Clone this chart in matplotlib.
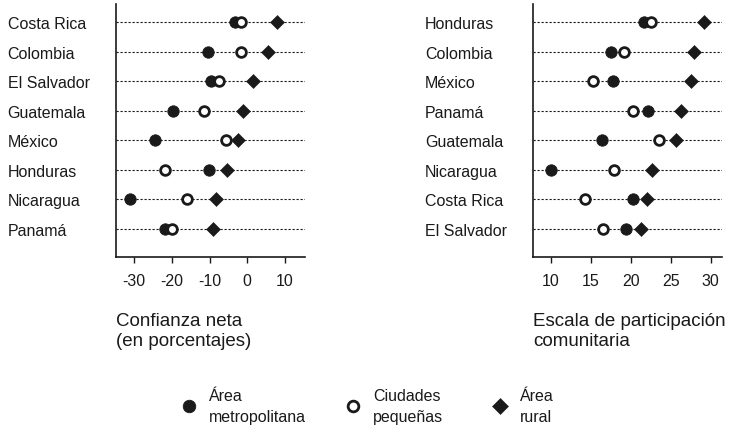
import matplotlib.pyplot as plt

plt.rcParams['font.family'] = ['Liberation Sans', 'DejaVu Sans']
plt.rcParams['axes.unicode_minus'] = False

tinta = '#1a1a1a'

# Panel izquierdo: confianza neta (en porcentajes)
paises_conf = ['Costa Rica', 'Colombia', 'El Salvador', 'Guatemala',
               'México', 'Honduras', 'Nicaragua', 'Panamá']
conf_metro = [-3.2, -10.5, -9.5, -19.8, -24.5, -10.2, -31.2, -21.8]
conf_ciudad = [-1.7, -1.7, -7.6, -11.4, -5.6, -21.9, -15.9, -20.0]
conf_rural = [7.9, 5.5, 1.4, -1.2, -2.5, -5.4, -8.2, -9.2]
conf_ticks = [-30, -20, -10, 0, 10]

# Panel derecho: escala de participación comunitaria
paises_part = ['Honduras', 'Colombia', 'México', 'Panamá', 'Guatemala',
               'Nicaragua', 'Costa Rica', 'El Salvador']
part_metro = [21.7, 17.5, 17.8, 22.2, 16.4, 10.0, 20.3, 19.4]
part_ciudad = [22.6, 19.2, 15.25, 20.25, 23.5, 17.95, 14.3, 16.5]
part_rural = [29.2, 27.95, 27.5, 26.3, 25.7, 22.7, 22.0, 21.3]
part_ticks = [10, 15, 20, 25, 30]

series = ['Área\nmetropolitana', 'Ciudades\npequeñas', 'Área\nrural']


def panel(ax, paises, metro, ciudad, rural, ticks, xlim, titulo):
    y = list(range(len(paises)))
    for yi in y:
        ax.axhline(yi, color=tinta, lw=0.8, ls=(0, (2, 1.6)), zorder=1)
    l1, = ax.plot(metro, y, 'o', ms=8.2, color=tinta, mec=tinta, mew=0.6,
                  label=series[0], zorder=3)
    l2, = ax.plot(ciudad, y, 'o', ms=7.0, mfc='white', mec=tinta, mew=2.0,
                  label=series[1], zorder=4)
    l3, = ax.plot(rural, y, 'D', ms=7.4, color=tinta, mec=tinta, mew=0.4,
                  label=series[2], zorder=5)
    ax.set_xlim(*xlim)
    ax.set_ylim(7.95, -0.61)
    ax.set_xticks(ticks)
    ax.set_xticklabels([str(t) for t in ticks])
    ax.set_yticks(y)
    ax.set_yticklabels(paises)
    for lab in ax.get_yticklabels():
        lab.set_horizontalalignment('left')
    ax.tick_params(axis='y', length=0, pad=78, labelsize=11.5, labelcolor=tinta)
    ax.tick_params(axis='x', length=4.5, width=1.0, pad=7, labelsize=11.5,
                   labelcolor=tinta, color=tinta)
    for s in ['top', 'right']:
        ax.spines[s].set_visible(False)
    for s in ['left', 'bottom']:
        ax.spines[s].set_linewidth(1.2)
        ax.spines[s].set_color(tinta)
    ax.set_xlabel(titulo, loc='left', fontsize=13.5, color=tinta, labelpad=17,
                  linespacing=1.3)
    return [l1, l2, l3]


fig = plt.figure(figsize=(7.33, 4.27), dpi=100)
ax1 = fig.add_axes([116 / 733, 1 - 258 / 427, 189 / 733, 253 / 427])
ax2 = fig.add_axes([533.3 / 733, 1 - 258 / 427, 188.4 / 733, 253 / 427])

handles = panel(ax1, paises_conf, conf_metro, conf_ciudad, conf_rural,
                conf_ticks, (-34.8, 15.3), 'Confianza neta\n(en porcentajes)')
panel(ax2, paises_part, part_metro, part_ciudad, part_rural,
      part_ticks, (7.8, 31.4), 'Escala de participación\ncomunitaria')

# leyenda: una entrada por columna, cada una en su sitio
for h, x0 in zip(handles, [181, 345, 492]):
    leg = fig.legend(handles=[h], loc='center left',
                     bbox_to_anchor=(x0 / 733, 1 - 407 / 427),
                     frameon=False, fontsize=11.5, handlelength=1.0,
                     handletextpad=0.75, borderpad=0, borderaxespad=0,
                     markerscale=1.1, labelcolor=tinta)
    for t in leg.get_texts():
        t.set_linespacing(1.45)

fig.savefig('out.png', dpi=100)
